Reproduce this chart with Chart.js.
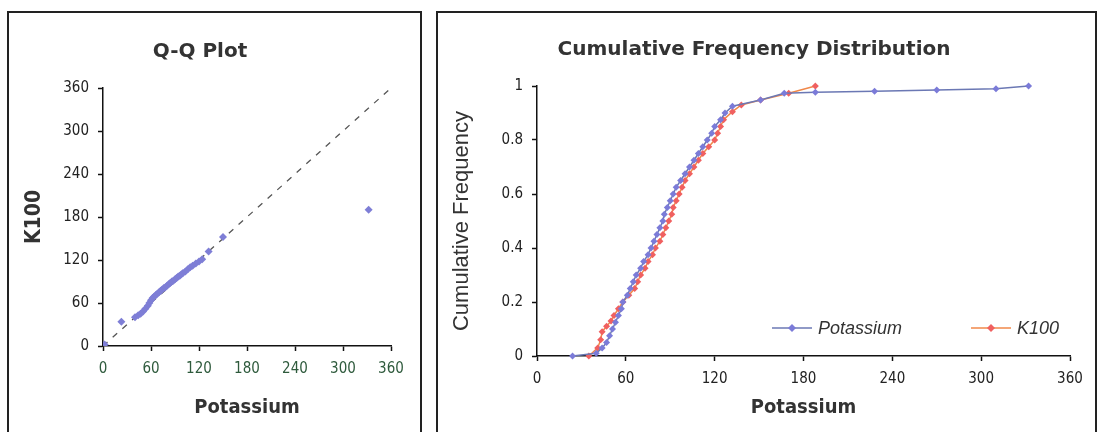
<!DOCTYPE html>
<html>
<head>
<meta charset="utf-8">
<script src="https://cdn.jsdelivr.net/npm/chart.js@4/dist/chart.umd.min.js"></script>
<style>
  html, body { margin: 0; padding: 0; background: #fff; width: 1098px; height: 432px; overflow: hidden; }
  .panel { position: absolute; border: 2px solid #222; background: #fff; }
  #leftPanel { left: 7px; top: 11px; width: 411px; height: 430px; }
  #rightPanel { left: 436px; top: 11px; width: 657px; height: 430px; }
  canvas { display: block; }
</style>
</head>
<body>
<div class="panel" id="leftPanel"><canvas id="qqChart" width="411" height="419"></canvas></div>
<div class="panel" id="rightPanel"><canvas id="cdfChart" width="657" height="419"></canvas></div>
<script>
// Q-Q plot: sorted Potassium vs sorted K100
const qqX = [2, 23, 40, 44, 47, 50, 53, 56, 58, 60, 62, 64, 66, 68, 70, 72, 74, 76, 78, 80, 82, 84, 86, 88, 90, 92, 94, 96, 98, 100, 103, 106, 109, 112, 116, 120, 124, 132, 150, 332];
const qqY = [2, 34, 40, 43, 45, 48, 52, 56, 60, 64, 67, 69, 71, 73, 75, 77, 79, 81, 82, 84, 86, 88, 90, 91, 93, 95, 97, 98, 100, 102, 104, 107, 110, 112, 115, 118, 121, 132, 152, 190];
const refLine = [0, 360];

// cumulative frequency curves
const potX = [24, 40, 44, 47, 49, 51, 53, 55, 57, 58, 61, 63, 65, 67, 70, 72, 75, 77, 79, 81, 83, 85, 86, 88, 90, 92, 94, 97, 100, 103, 106, 109, 112, 115, 118, 120, 124, 127, 132, 151, 167, 188, 228, 270, 310, 332];
const potY = [0, 0.01, 0.03, 0.05, 0.075, 0.1, 0.125, 0.15, 0.175, 0.2, 0.225, 0.25, 0.275, 0.3, 0.325, 0.35, 0.375, 0.4, 0.425, 0.45, 0.475, 0.5, 0.525, 0.55, 0.575, 0.6, 0.625, 0.65, 0.675, 0.7, 0.725, 0.75, 0.775, 0.8, 0.825, 0.85, 0.875, 0.9, 0.925, 0.948, 0.973, 0.977, 0.981, 0.985, 0.99, 1];
const k100X = [35, 41, 43, 44, 47, 50, 52, 55, 58, 62, 66, 68, 70, 73, 75, 78, 80, 83, 85, 87, 89, 91, 92, 94, 96, 98, 100, 103, 106, 109, 112, 116, 120, 122, 124, 126, 132, 138, 151, 170, 188];
const k100Y = [0, 0.03, 0.06, 0.09, 0.11, 0.13, 0.15, 0.175, 0.2, 0.225, 0.25, 0.275, 0.3, 0.325, 0.35, 0.375, 0.4, 0.425, 0.45, 0.475, 0.5, 0.525, 0.55, 0.575, 0.6, 0.625, 0.65, 0.675, 0.7, 0.725, 0.75, 0.775, 0.8, 0.825, 0.85, 0.875, 0.905, 0.93, 0.948, 0.973, 1];

const seriesNames = ['Potassium', 'K100'];
const xTicks = [0, 60, 120, 180, 240, 300, 360];
const freqTicks = [0, 0.2, 0.4, 0.6, 0.8, 1];

const narrow = "'Liberation Sans Narrow', 'DejaVu Sans Condensed', 'Arial Narrow', sans-serif";
const wide = "'DejaVu Sans', Verdana, sans-serif";

function pts(xs, ys) {
    return xs.map((x, i) => ({ x: x, y: ys[i] }));
}

function axisStyle(extra) {
    return Object.assign({
        border: { display: true, color: '#111', width: 1.5 },
        grid: { display: true, drawOnChartArea: false, drawTicks: true, tickLength: 5, color: '#111', tickWidth: 1.5 },
    }, extra);
}

// Q-Q plot
new Chart(document.getElementById('qqChart'), {
    type: 'scatter',
    data: {
        datasets: [
            {
                data: pts(refLine, refLine),
                showLine: true,
                borderColor: '#555',
                borderWidth: 1.3,
                borderDash: [6, 7],
                pointRadius: 0,
                order: 2
            },
            {
                data: pts(qqX, qqY),
                pointStyle: 'rectRot',
                pointRadius: 4,
                backgroundColor: '#7e7ed6',
                borderColor: '#7e7ed6',
                borderWidth: 0,
                order: 1
            }
        ]
    },
    options: {
        responsive: false,
        animation: false,
        layout: { padding: { left: 0, right: 29, top: 0, bottom: 0 } },
        plugins: {
            legend: { display: false },
            tooltip: { enabled: false },
            title: {
                display: true,
                text: 'Q-Q Plot',
                color: '#333',
                font: { family: wide, size: 20, weight: 'bold' },
                padding: { top: 27, bottom: 24 }
            }
        },
        scales: {
            x: axisStyle({
                type: 'linear', min: 0, max: 360,
                afterFit: s => { s.height = 86; },
                afterBuildTicks: s => { s.ticks = xTicks.map(v => ({ value: v })); },
                ticks: { color: '#2e5a3c', padding: 9, font: { family: narrow, size: 15 } },
                title: { display: true, text: 'Potassium', color: '#333', font: { family: narrow, size: 20, weight: 'bold' }, padding: { top: 0, bottom: 12 } }
            }),
            y: axisStyle({
                type: 'linear', min: 0, max: 360,
                afterFit: s => { s.width = 94; },
                afterBuildTicks: s => { s.ticks = xTicks.map(v => ({ value: v })); },
                ticks: { color: '#222', padding: 9, font: { family: narrow, size: 15 } },
                title: { display: true, text: 'K100', color: '#333', font: { family: narrow, size: 21, weight: 'bold' }, padding: { top: 13, bottom: 0 } }
            })
        }
    }
});

// legend drawn inside the plot area, lower right
const insideLegend = {
    id: 'insideLegend',
    afterDraw(chart) {
        const ctx = chart.ctx;
        const area = chart.chartArea;
        const y = area.bottom - 28;
        const items = [
            { name: seriesNames[0], line: '#6b78b4', mark: '#7b7bd8', x: area.left + 235 },
            { name: seriesNames[1], line: '#f0884a', mark: '#f06060', x: area.left + 434 }
        ];
        ctx.save();
        items.forEach(it => {
            ctx.strokeStyle = it.line;
            ctx.lineWidth = 1.5;
            ctx.beginPath();
            ctx.moveTo(it.x, y);
            ctx.lineTo(it.x + 40, y);
            ctx.stroke();
            ctx.fillStyle = it.mark;
            ctx.beginPath();
            ctx.moveTo(it.x + 20, y - 4);
            ctx.lineTo(it.x + 24, y);
            ctx.lineTo(it.x + 20, y + 4);
            ctx.lineTo(it.x + 16, y);
            ctx.closePath();
            ctx.fill();
            ctx.fillStyle = '#333';
            ctx.font = "italic 18px 'Liberation Sans', Arial, sans-serif";
            ctx.textBaseline = 'middle';
            ctx.textAlign = 'left';
            ctx.fillText(it.name, it.x + 46, y + 1);
        });
        ctx.restore();
    }
};

// cumulative frequency distribution
new Chart(document.getElementById('cdfChart'), {
    type: 'scatter',
    data: {
        datasets: [
            {
                label: seriesNames[0],
                data: pts(potX, potY),
                showLine: true,
                borderColor: '#6b78b4',
                borderWidth: 1.5,
                pointStyle: 'rectRot',
                pointRadius: 3.5,
                pointBackgroundColor: '#7b7bd8',
                pointBorderWidth: 0,
                clip: false
            },
            {
                label: seriesNames[1],
                data: pts(k100X, k100Y),
                showLine: true,
                borderColor: '#f0884a',
                borderWidth: 1.5,
                pointStyle: 'rectRot',
                pointRadius: 3.5,
                pointBackgroundColor: '#f06060',
                pointBorderWidth: 0,
                clip: false
            }
        ]
    },
    options: {
        responsive: false,
        animation: false,
        layout: { padding: { left: 0, right: 25, top: 0, bottom: 0 } },
        plugins: {
            legend: { display: false },
            tooltip: { enabled: false },
            title: {
                display: true,
                text: 'Cumulative Frequency Distribution',
                color: '#333',
                font: { family: wide, size: 20, weight: 'bold' },
                padding: { top: 25, bottom: 24 }
            }
        },
        scales: {
            x: axisStyle({
                type: 'linear', min: 0, max: 360,
                afterFit: s => { s.height = 76; },
                afterBuildTicks: s => { s.ticks = xTicks.map(v => ({ value: v })); },
                ticks: { color: '#222', padding: 9, font: { family: narrow, size: 15 } },
                title: { display: true, text: 'Potassium', color: '#333', font: { family: narrow, size: 20, weight: 'bold' }, padding: { top: 0, bottom: 12 } }
            }),
            y: axisStyle({
                type: 'linear', min: 0, max: 1,
                afterFit: s => { s.width = 99; },
                afterBuildTicks: s => { s.ticks = freqTicks.map(v => ({ value: v })); },
                ticks: { color: '#222', padding: 9, font: { family: narrow, size: 15 }, callback: v => String(v) },
                title: { display: true, text: 'Cumulative Frequency', color: '#333', font: { family: "'Liberation Sans', Arial, sans-serif", size: 22 }, padding: { top: 11, bottom: 0 } }
            })
        }
    },
    plugins: [insideLegend]
});
</script>
</body>
</html>
